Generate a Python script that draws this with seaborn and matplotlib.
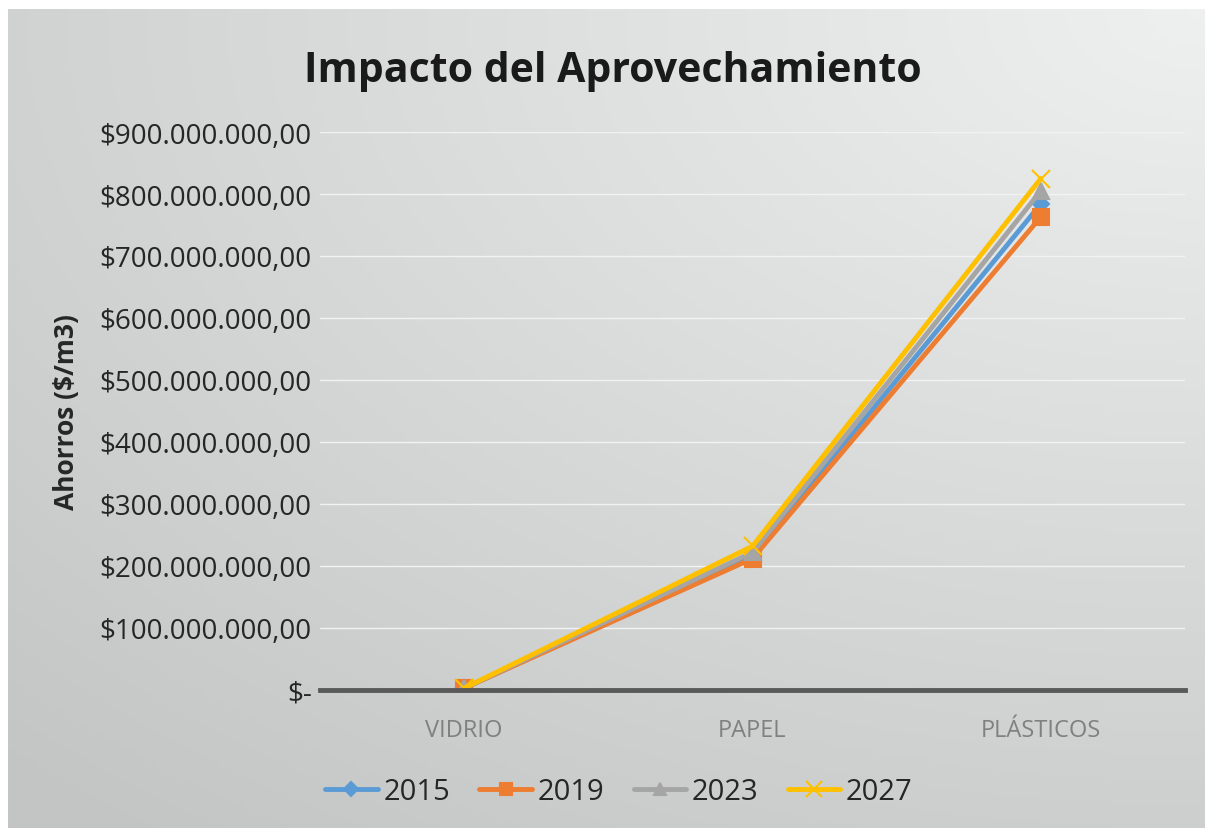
import numpy as np
import pandas as pd
import matplotlib
matplotlib.use("Agg")
import matplotlib.pyplot as plt
import seaborn as sns
from matplotlib.ticker import FuncFormatter, MultipleLocator

# datos
materiales = ["VIDRIO", "PAPEL", "PLÁSTICOS"]
anios = ["2015", "2019", "2023", "2027"]
ahorro_2015 = [3e6, 216e6, 784e6]
ahorro_2019 = [3e6, 212e6, 763e6]
ahorro_2023 = [3e6, 222e6, 805e6]
ahorro_2027 = [3e6, 232e6, 825e6]

colores = ["#5B9BD5", "#ED7D31", "#A5A5A5", "#FFC000"]
marcadores = ["D", "s", "^", "x"]
tamanos = [8, 11, 11, 13]

series = [ahorro_2015, ahorro_2019, ahorro_2023, ahorro_2027]

sns.set_theme(style="white")
plt.rcParams["font.family"] = ["Open Sans", "DejaVu Sans"]

fig = plt.figure(figsize=(12.06, 8.29), dpi=100)

# fondo degradado gris
bg = fig.add_axes([8 / 1206, 0, 1197 / 1206, 819 / 829], zorder=-10)
xx, yy = np.meshgrid(np.linspace(0, 1, 300), np.linspace(0, 1, 200))
d = np.sqrt((1 - xx) ** 2 * 0.8 + (yy) ** 2 * 1.0)
g = 0.94 - 0.17 * np.clip(d / 1.3, 0, 1)
img = np.dstack([g - 0.005, g + 0.002, g])
bg.imshow(img, aspect="auto", extent=[0, 1, 0, 1], origin="upper")
bg.axis("off")

ax = fig.add_axes([320 / 1206, 1 - 691 / 829, 865 / 1206, 558 / 829])
ax.patch.set_alpha(0)

for anio, vals, c, m, ms in zip(anios, series, colores, marcadores, tamanos):
    d_ = pd.DataFrame({"material": materiales, "ahorro": vals})
    sns.lineplot(data=d_, x="material", y="ahorro", color=c, marker=m, sort=False,
                 linewidth=3.5, markersize=ms,
                 markeredgewidth=1.5, markeredgecolor=c, label=anio, ax=ax)

ax.set_xlim(-0.5, 2.5)
ax.set_ylim(0, 900e6)
ax.yaxis.set_major_locator(MultipleLocator(100e6))


def fmt(v, pos):
    if v == 0:
        return "$-"
    s = f"{v:,.2f}".replace(",", "X").replace(".", ",").replace("X", ".")
    return "$" + s


ax.yaxis.set_major_formatter(FuncFormatter(fmt))
ax.tick_params(axis="y", labelsize=20, labelcolor="#262626", length=0, pad=6)
ax.tick_params(axis="x", labelsize=17, labelcolor="#808080", length=0, pad=20)
ax.grid(axis="y", color="#f2f2f2", linewidth=1)
ax.set_axisbelow(True)
for s in ["top", "right", "left"]:
    ax.spines[s].set_visible(False)
ax.spines["bottom"].set_color("#595959")
ax.spines["bottom"].set_linewidth(3.5)
ax.set_xlabel("")
ax.set_ylabel("Ahorros ($/m3)", fontsize=19, fontweight="bold", color="#262626", labelpad=14)

fig.text(0.508, 1 - 72 / 829, "Impacto del Aprovechamiento", ha="center", va="center",
         fontsize=29.5, fontweight="bold", color="#1a1a1a")

ax.legend(loc="center", bbox_to_anchor=((619 - 320) / 865, -(793 - 691) / 558), ncol=4,
          frameon=False, fontsize=21, handlelength=1.8, handletextpad=0.2,
          columnspacing=1.0, markerscale=0.85)

fig.savefig("out.png", dpi=100, facecolor="white")
